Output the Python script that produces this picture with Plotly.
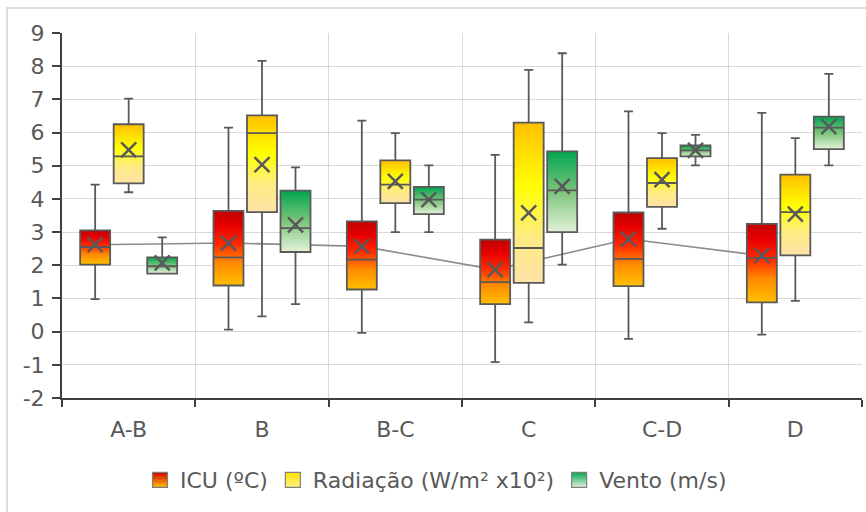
import plotly.graph_objects as go

categories = ['A-B', 'B', 'B-C', 'C', 'C-D', 'D']
series_names = ['ICU (ºC)', 'Radiação (W/m² x10²)', 'Vento (m/s)']
y_tick_values = [-2, -1, 0, 1, 2, 3, 4, 5, 6, 7, 8, 9]
y_tick_labels = ['-2', '-1', '0', '1', '2', '3', '4', '5', '6', '7', '8', '9']

icu_low = [0.98, 0.06, -0.04, -0.92, -0.22, -0.09]
icu_q1 = [2.02, 1.39, 1.27, 0.83, 1.37, 0.88]
icu_median = [2.55, 2.24, 2.17, 1.49, 2.19, 2.22]
icu_q3 = [3.05, 3.64, 3.32, 2.77, 3.59, 3.25]
icu_high = [4.43, 6.15, 6.36, 5.33, 6.64, 6.59]
icu_mean = [2.62, 2.67, 2.57, 1.87, 2.79, 2.29]

rad_low = [4.20, 0.46, 3.00, 0.28, 3.10, 0.93]
rad_q1 = [4.47, 3.60, 3.87, 1.47, 3.76, 2.30]
rad_median = [5.28, 5.98, 4.43, 2.52, 4.48, 3.60]
rad_q3 = [6.25, 6.52, 5.16, 6.30, 5.23, 4.73]
rad_high = [7.02, 8.16, 5.98, 7.89, 5.98, 5.83]
rad_mean = [5.48, 5.03, 4.53, 3.58, 4.58, 3.54]

vento_low = [1.75, 0.83, 3.00, 2.02, 5.01, 5.01]
vento_q1 = [1.75, 2.40, 3.54, 3.00, 5.28, 5.50]
vento_median = [1.97, 3.12, 3.98, 4.26, 5.46, 6.15]
vento_q3 = [2.24, 4.25, 4.36, 5.43, 5.61, 6.48]
vento_high = [2.84, 4.95, 5.01, 8.39, 5.93, 7.77]
vento_mean = [2.07, 3.22, 3.98, 4.38, 5.46, 6.18]

series = [
    dict(name=series_names[0], low=icu_low, q1=icu_q1, med=icu_median, q3=icu_q3,
         high=icu_high, mean=icu_mean, top='#cc0000', bottom='#ffc000',
         cs=[[0, '#ffc000'], [0.3, '#ff8a00'], [0.55, '#ff2a00'], [0.8, '#e80000'], [1, '#c00000']]),
    dict(name=series_names[1], low=rad_low, q1=rad_q1, med=rad_median, q3=rad_q3,
         high=rad_high, mean=rad_mean, top='#ffe000', bottom='#fff080',
         cs=[[0, '#fee2a8'], [0.3, '#ffec80'], [0.6, '#ffff00'], [1, '#ffc000']]),
    dict(name=series_names[2], low=vento_low, q1=vento_q1, med=vento_median, q3=vento_q3,
         high=vento_high, mean=vento_mean, top='#00a651', bottom='#e4f2da',
         cs=[[0, '#e4f2da'], [0.5, '#7cc47a'], [1, '#00a651']]),
]

GAP = 0.246
GROUPGAP = 0.105
N = len(series)
slot = (1 - GAP) / N
half_w = slot * (1 - GROUPGAP) / 2


def center(i, k):
    return i + (1 - GAP) * (-0.5 + (k + 0.5) / N)


fig = go.Figure()

# line joining ICU means (drawn beneath the boxes)
fig.add_trace(go.Scatter(
    x=[center(i, 0) for i in range(len(categories))], y=icu_mean,
    mode='lines', line=dict(color='#8c8c8c', width=1.6),
    showlegend=False, hoverinfo='skip'))

# gradient box bodies
for k, s in enumerate(series):
    for i in range(len(categories)):
        xc = center(i, k)
        fig.add_trace(go.Scatter(
            x=[xc - half_w, xc + half_w, xc + half_w, xc - half_w, xc - half_w],
            y=[s['q1'][i], s['q1'][i], s['q3'][i], s['q3'][i], s['q1'][i]],
            mode='lines', fill='toself', line=dict(width=0, color='#7f7f7f'),
            fillgradient=dict(type='vertical', colorscale=s['cs']),
            name=s['name'], legendgroup=s['name'], showlegend=False,
            hoverinfo='skip'))

# legend swatches (legend-only entries)
for k, s in enumerate(series):
    fig.add_trace(go.Scatter(
        x=[None], y=[None], mode='markers', name=s['name'], legendgroup=s['name'],
        marker=dict(symbol='square', size=15, color=s['top'],
                    gradient=dict(type='vertical', color=s['bottom']),
                    line=dict(color='#7f7f7f', width=1.2))))

# box outlines, whiskers and medians
for k, s in enumerate(series):
    fig.add_trace(go.Box(
        x=[center(i, k) for i in range(len(categories))],
        q1=s['q1'], median=s['med'], q3=s['q3'],
        lowerfence=s['low'], upperfence=s['high'],
        width=2 * half_w, whiskerwidth=0.3,
        fillcolor='rgba(0,0,0,0)', line=dict(color='#595959', width=1.8),
        boxpoints=False, xaxis='x2', showlegend=False, name=s['name']))

# mean markers
for k, s in enumerate(series):
    fig.add_trace(go.Scatter(
        x=[center(i, k) for i in range(len(categories))], y=s['mean'],
        mode='markers', xaxis='x2',
        marker=dict(symbol='x-thin-open', size=15, color='#595959',
                    line=dict(width=2.5, color='#595959')),
        showlegend=False, name=s['name']))

font_family = 'DejaVu Sans'
grid = '#d9d9d9'
axis_col = '#404040'
txt = '#595959'
fs = 22

fig.update_layout(
    width=866, height=512,
    margin=dict(l=62, r=4, t=33, b=114),
    paper_bgcolor='white', plot_bgcolor='white',
    font=dict(family=font_family, size=fs, color=txt),
    boxmode='overlay',
    xaxis=dict(
        range=[-0.5, len(categories) - 0.5], automargin=False,
        tickmode='array', tickvals=list(range(len(categories))), ticktext=categories,
        ticks='', showgrid=False, zeroline=False, ticklabelstandoff=11,
        showline=True, linecolor=axis_col, linewidth=2,
        tickfont=dict(size=fs, color=txt),
        minor=dict(tickmode='array',
                   tickvals=[i - 0.5 for i in range(len(categories) + 1)],
                   ticks='outside', ticklen=7, tickwidth=2, tickcolor=axis_col,
                   showgrid=True, gridcolor=grid, gridwidth=1),
    ),
    xaxis2=dict(overlaying='x', range=[-0.5, len(categories) - 0.5], visible=False),
    yaxis=dict(
        range=[-2, 9], automargin=False,
        tickmode='array', tickvals=y_tick_values, ticktext=y_tick_labels,
        ticks='outside', ticklen=8, tickwidth=2, tickcolor=axis_col,
        ticklabelstandoff=3,
        showline=True, linecolor=axis_col, linewidth=2,
        showgrid=True, gridcolor=grid, gridwidth=1, zeroline=False,
        tickfont=dict(size=fs, color=txt),
    ),
    legend=dict(orientation='h', x=(140 - 62) / 800, xanchor='left',
                y=(398 - 459) / 365, yanchor='top',
                font=dict(size=fs, color=txt), bgcolor='rgba(0,0,0,0)',
                itemwidth=30, tracegroupgap=0),
    shapes=[dict(type='rect', xref='paper', yref='paper', layer='below',
                 x0=(7 - 62) / 800, x1=(880 - 62) / 800,
                 y0=(398 - 530) / 365, y1=(398 - 8) / 365,
                 line=dict(color='#dcdcdc', width=2), fillcolor='rgba(0,0,0,0)')],
)

fig.write_html('out.html', config={'displayModeBar': False},
               post_script="document.body.style.margin='0';document.body.style.overflow='hidden';")
